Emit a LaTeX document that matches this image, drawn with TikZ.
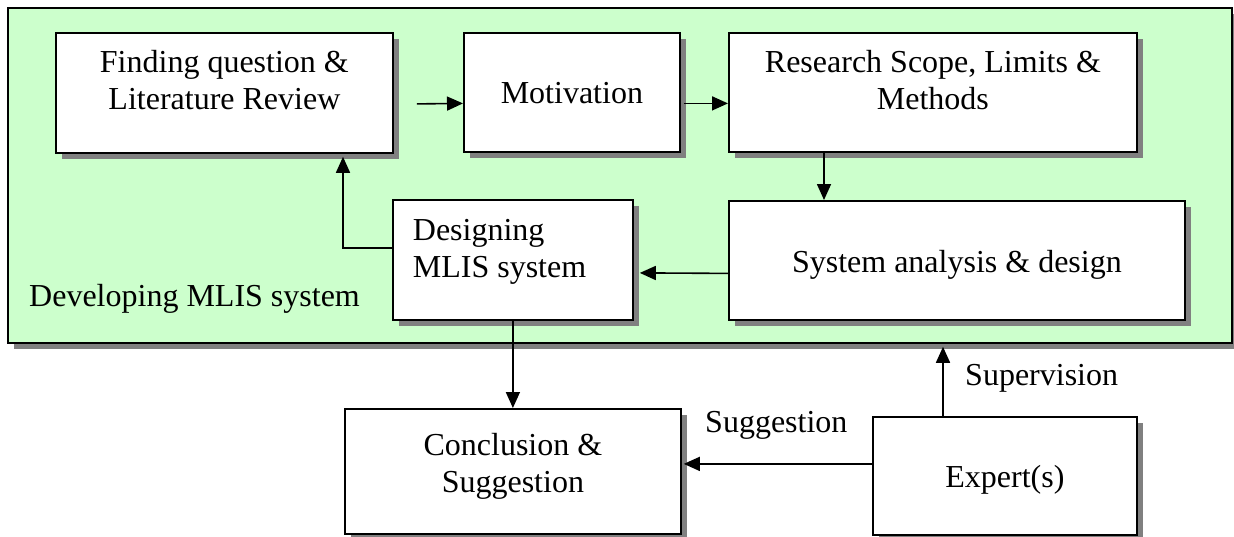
\documentclass[tikz,border=0pt]{standalone}
\usepackage{fontspec}
\setmainfont{Liberation Serif}
\usetikzlibrary{arrows.meta,shadows}
\definecolor{panelgreen}{HTML}{CCFFCC}
\definecolor{shadowgray}{HTML}{808080}
\newcommand{\tbox}[4]{\parbox[c][#2][t]{#1}{#4\rule{0pt}{#3}}}
\begin{document}
\begin{tikzpicture}[x=1pt,y=-1pt,
  every node/.style={font=\fontsize{32}{36.8}\selectfont},
  shadowed/.style={drop shadow={shadow xshift=6pt,shadow yshift=-6pt,fill=shadowgray,opacity=1}},
  panel/.style={draw,line width=1.8pt,fill=panelgreen,shadowed,inner sep=0pt,anchor=north west},
  stepbox/.style={draw,line width=1.8pt,fill=white,shadowed,inner sep=0pt,anchor=north west},
  arr/.style={line width=1.6pt,-{Triangle[length=16pt,width=14pt]}},
  lbl/.style={anchor=base west,inner sep=0pt}]
\useasboundingbox (0,0) rectangle (1234,536);

\node[panel,minimum width=1224pt,minimum height=335pt] (dev) at (7,7) {};

\node[stepbox,minimum width=337pt,minimum height=120pt] (find) at (55,32)
  {\tbox{337pt}{120pt}{0pt}{\centering\rule{0pt}{40pt}Finding question \&\\Literature Review\par}};
\node[stepbox,minimum width=216pt,minimum height=119pt] (mot) at (463,32)
  {\tbox{216pt}{119pt}{0pt}{\centering\rule{0pt}{71pt}Motivation\par}};
\node[stepbox,minimum width=408pt,minimum height=119pt] (res) at (728,32)
  {\tbox{408pt}{119pt}{0pt}{\centering\rule{0pt}{40pt}Research Scope, Limits \&\\Methods\par}};
\node[stepbox,minimum width=456pt,minimum height=119pt] (sys) at (728,200)
  {\tbox{456pt}{119pt}{0pt}{\centering\rule{0pt}{72pt}System analysis \& design\par}};
\node[stepbox,minimum width=240pt,minimum height=120pt] (des) at (392,199)
  {\tbox{240pt}{120pt}{0pt}{\raggedright\leftskip=20pt\rule{0pt}{41pt}Designing\\MLIS system\par}};
\node[stepbox,minimum width=336pt,minimum height=125pt] (conc) at (344,408)
  {\tbox{336pt}{125pt}{0pt}{\centering\rule{0pt}{47pt}Conclusion \&\\Suggestion\par}};
\node[stepbox,minimum width=264pt,minimum height=118pt] (exp) at (872,416)
  {\tbox{264pt}{118pt}{0pt}{\centering\rule{0pt}{71pt}Expert(s)\par}};

\node[lbl] (devlbl) at (29,306) {Developing MLIS system};
\node[lbl] (suglbl) at (705,432) {Suggestion};
\node[lbl] (suplbl) at (965,385) {Supervision};

\draw[arr] ([xshift=23pt,yshift=-11pt]find.east) -- ([yshift=-11pt]mot.west);
\draw[arr] ([xshift=3pt,yshift=-11pt]mot.east) -- ([yshift=-11pt]res.west);
\draw[arr] ([xshift=96pt]res.south west) -- ([xshift=96pt]sys.north west);
\draw[arr] ([yshift=-13pt]sys.west) -- ([xshift=6pt,yshift=-13pt]des.east);
\draw[arr] ([yshift=12pt]des.west) -| ([xshift=288pt,yshift=-3pt]find.south west);
\draw[arr] (des.south) -- (conc.north);
\coordinate (sg) at ([yshift=12pt]exp.west);
\coordinate (sgend) at (sg -| conc.east);
\draw[arr] (sg) -- ([xshift=2pt]sgend);
\coordinate (sp) at ([xshift=71pt]exp.north west);
\coordinate (spend) at (sp |- dev.south);
\draw[arr] (sp) -- ([yshift=-3pt]spend);
\end{tikzpicture}
\end{document}
